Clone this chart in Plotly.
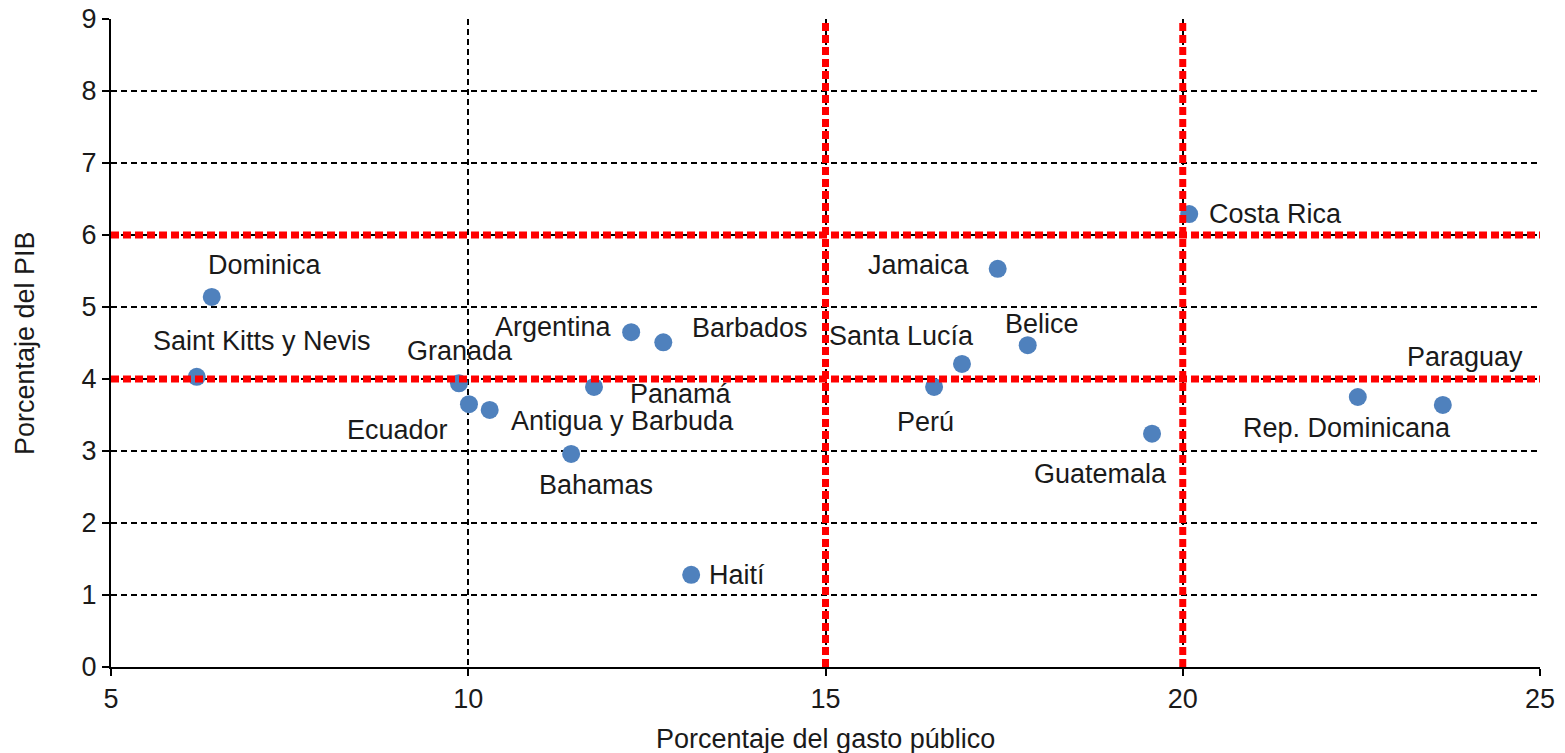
import plotly.graph_objects as go

countries = ["Dominica", "Saint Kitts y Nevis", "Granada", "Ecuador", "Antigua y Barbuda",
             "Bahamas", "Panamá", "Argentina", "Barbados", "Haití", "Perú", "Santa Lucía",
             "Jamaica", "Belice", "Guatemala", "Costa Rica", "Rep. Dominicana", "Paraguay"]
gasto = [6.41, 6.20, 9.87, 10.01, 10.30, 11.44, 11.76, 12.28, 12.73, 13.12, 16.52, 16.91,
         17.41, 17.83, 19.57, 20.09, 22.45, 23.64]
pib = [5.14, 4.03, 3.94, 3.65, 3.57, 2.96, 3.89, 4.65, 4.51, 1.28, 3.89, 4.21,
       5.53, 4.47, 3.24, 6.29, 3.75, 3.64]
# label offsets in pixels (dx, dy up)
label_dx = [53, 65, 1, -71, 133, 25, 87, -78, 87, 46, -9, -60, -79, 14, -52, 86, -11, 22]
label_dy = [32, 36, 32, -26, -11, -31, -7, 5, 14, 0, -35, 28, 4, 21, -40, 0, -31, 48]

v_thresholds = [15, 20]
h_thresholds = [4, 6]

x_title = "Porcentaje del gasto público"
y_title = "Porcentaje del PIB"

FONT = "Liberation Sans, Arial, sans-serif"
FS = 27

fig = go.Figure()
fig.add_trace(go.Scatter(
    x=gasto, y=pib, mode="markers",
    marker=dict(color="#4F81BD", size=18, line=dict(width=0)),
    showlegend=False, hoverinfo="text", text=countries,
))

for name, x, y, dx, dy in zip(countries, gasto, pib, label_dx, label_dy):
    fig.add_annotation(x=x, y=y, text=name, showarrow=False, xshift=dx, yshift=dy,
                       font=dict(family=FONT, size=FS, color="#1a1a1a"))

for v in v_thresholds:
    fig.add_shape(type="line", xref="x", yref="paper", x0=v, x1=v, y0=0, y1=1,
                  line=dict(color="#FF0000", width=7, dash="8px,4px"), layer="above")
for h in h_thresholds:
    fig.add_shape(type="line", xref="paper", yref="y", x0=0, x1=1, y0=h, y1=h,
                  line=dict(color="#FF0000", width=7, dash="8px,4px"), layer="above")

# axis titles
fig.add_annotation(xref="paper", yref="paper", x=0.5, y=0, yanchor="middle", yshift=-72,
                   text=x_title, showarrow=False, font=dict(family=FONT, size=FS, color="#1a1a1a"))
fig.add_annotation(xref="paper", yref="paper", x=0, y=0.5, xanchor="center", xshift=-86,
                   textangle=-90, text=y_title, showarrow=False,
                   font=dict(family=FONT, size=FS, color="#1a1a1a"))

fig.update_layout(
    width=1565, height=753,
    margin=dict(l=111, r=25, t=19, b=86),
    plot_bgcolor="white", paper_bgcolor="white",
    font=dict(family=FONT, size=FS, color="#1a1a1a"),
)
fig.update_xaxes(
    range=[5, 25], tickvals=[5, 10, 15, 20, 25], showgrid=True,
    gridcolor="black", griddash="6px,4px", gridwidth=1.5,
    showline=True, linecolor="black", linewidth=2, zeroline=False,
    ticks="outside", ticklen=7, tickcolor="black", tickwidth=1.5,
    tickfont=dict(size=FS), automargin=False, ticklabeloverflow="allow",
)
fig.update_yaxes(
    range=[0, 9], tickvals=list(range(0, 10)), showgrid=True,
    gridcolor="black", griddash="6px,4px", gridwidth=1.5,
    showline=True, linecolor="black", linewidth=2, zeroline=False,
    ticks="outside", ticklen=7, tickcolor="black", tickwidth=1.5,
    tickfont=dict(size=FS), automargin=False, ticklabeloverflow="allow",
)

fig.write_html("out.html", config={"displayModeBar": False},
               post_script="document.body.style.margin='0';document.body.style.overflow='hidden';")
